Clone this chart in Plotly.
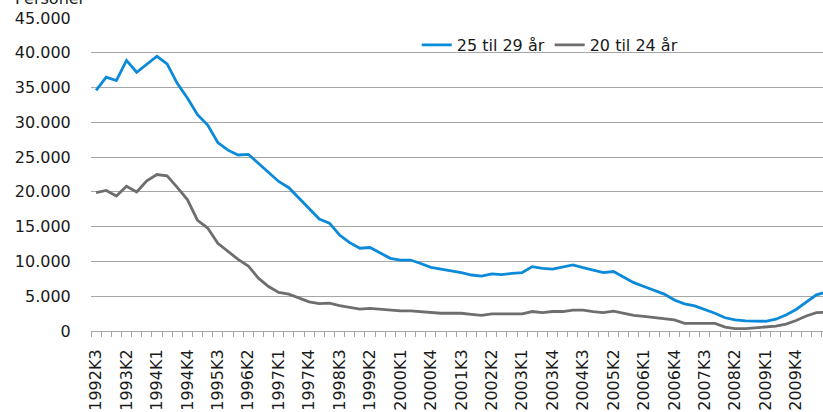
import plotly.graph_objects as go

# Quarter labels 1992K3 .. 2010K3
quarters = []
y, q = 1992, 3
while (y, q) <= (2010, 3):
    quarters.append(f"{y}K{q}")
    q += 1
    if q > 4:
        q = 1
        y += 1

age_25_29 = [34600, 36500, 36000, 38900, 37200, 38400, 39500, 38400, 35600, 33500,
             31100, 29600, 27100, 26000, 25300, 25400, 24100, 22700, 21500, 20600,
             19100, 17500, 16100, 15500, 13800, 12700, 11900, 12000, 11200, 10450,
             10200, 10200, 9700, 9150, 8900, 8700, 8400, 8050, 7900, 8200,
             8100, 8300, 8400, 9250, 9000, 8900, 9150, 9500, 9100, 8700,
             8400, 8550, 7700, 6950, 6400, 5900, 5300, 4450, 3900, 3600,
             3100, 2550, 1900, 1600, 1450, 1400, 1400, 1700, 2300, 3100,
             4200, 5200, 5600]

age_20_24 = [19900, 20200, 19400, 20800, 20000, 21600, 22500, 22300, 20650, 18900,
             15900, 14800, 12600, 11400, 10300, 9350, 7600, 6400, 5550, 5300,
             4700, 4200, 3950, 4000, 3650, 3350, 3150, 3250, 3100, 2950,
             2900, 2900, 2750, 2650, 2550, 2550, 2550, 2400, 2250, 2450,
             2450, 2450, 2450, 2800, 2650, 2800, 2800, 3000, 3000, 2800,
             2650, 2850, 2550, 2250, 2100, 1950, 1800, 1600, 1100, 1100,
             1100, 1100, 550, 350, 350, 500, 550, 700, 1000, 1500,
             2150, 2650, 2700]

series_names = ["25 til 29 år", "20 til 24 år"]
colors = ["#0a8ad9", "#6e6e6e"]

xi = list(range(len(quarters)))
label_idx = xi[::3]

fig = go.Figure()
for name, vals, c in zip(series_names, [age_25_29, age_20_24], colors):
    fig.add_trace(go.Scatter(x=xi, y=vals, name=name, mode="lines",
                             line=dict(color=c, width=2.8)))

font_family = "DejaVu Sans, Liberation Sans, Arial, sans-serif"

fig.update_layout(
    width=823, height=412,
    margin=dict(l=91, r=0, t=18, b=81),
    paper_bgcolor="white", plot_bgcolor="white",
    separators=",.",
    font=dict(family=font_family, size=16, color="#1a1a1a"),
    showlegend=True,
    legend=dict(orientation="h", x=0.445, y=0.914, xanchor="left", yanchor="middle",
                font=dict(size=16), bgcolor="rgba(0,0,0,0)", itemwidth=30,
                traceorder="normal"),
    xaxis=dict(
        range=[-0.5, 71.65],
        tickmode="array",
        tickvals=label_idx,
        ticktext=[quarters[i] for i in label_idx],
        tickangle=-90,
        ticks="outside", ticklen=11, tickcolor="rgba(0,0,0,0)",
        showgrid=False, zeroline=False,
        showline=True, linecolor="#a6a6a6", linewidth=1,
        tickfont=dict(size=16),
        minor=dict(ticks="outside", ticklen=5, tickcolor="#a6a6a6",
                   tick0=-0.5, dtick=1, showgrid=False),
    ),
    yaxis=dict(
        range=[0, 45000],
        tickmode="linear", tick0=0, dtick=5000,
        tickformat=",d",
        showgrid=True, gridcolor="#a6a6a6", gridwidth=1,
        zeroline=False, showline=False,
        ticks="outside", ticklen=16, tickcolor="rgba(0,0,0,0)",
        tickfont=dict(size=16),
    ),
    annotations=[dict(text="Personer", xref="paper", yref="paper",
                      x=-0.107, y=1.025, xanchor="left", yanchor="bottom",
                      showarrow=False, font=dict(size=16))],
)

fig.write_html("out.html", config={"displayModeBar": False},
               post_script="document.body.style.margin='0';")
